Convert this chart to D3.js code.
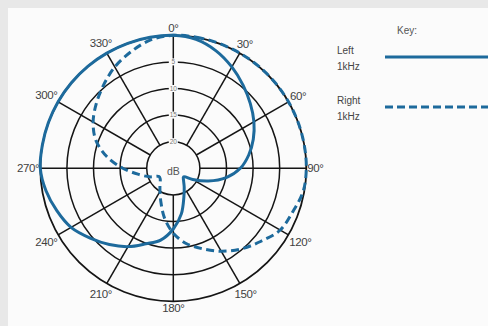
<!DOCTYPE html>
<html><head><meta charset="utf-8">
<script src="https://cdn.jsdelivr.net/npm/d3@7/dist/d3.min.js"></script>
<style>
html,body{margin:0;padding:0;background:#e8e8e8;overflow:hidden;}
svg{display:block;}
text{font-family:"Liberation Sans",Arial,sans-serif;}
</style></head>
<body>
<svg id="chart" width="488" height="326"></svg>
<script>
// Angles (degrees, clockwise from top)
const angles = [0,10,20,30,40,50,60,70,80,90,100,110,120,130,140,150,160,170,
                180,190,200,210,220,230,240,250,260,270,280,290,300,310,320,330,340,350];
// Attenuation (dB below maximum) per angle
const leftDb  = [0,0.4,1.5,3.0,4.6,6.1,7.5,9.0,10.6,12.4,14.9,18.0,20.8,22.5,22.0,20.9,19.2,16.3,
                 13.6,11.3,9.9,8.0,6.3,4.6,2.8,1.7,0.7,0,0,0,0,0,0,0,0,0];
const rightDb = [0,0,0,0,0,0,0,0,0,0,0.2,1.1,1.8,3.6,5.2,7.0,8.9,10.6,
                 12.8,15.5,18.2,20.0,21.1,21.8,21.9,20.3,18.4,15.5,12.3,9.5,7.6,6.1,4.6,3.0,1.7,0.5];
const ringTicks = [0,5,10,15,20];
const ringLabels = ["5","10","15","20"];
const spokeAngles = [0,30,60,90,120,150,180,210,240,270,300,330];
const spokeLabels = ["0°","30°","60°","90°","120°","150°","180°","210°","240°","270°","300°","330°"];
const seriesNames = [["Left","1kHz"],["Right","1kHz"]];

const svg = d3.select("#chart");
const W = 488, H = 326;
const cx = 173.3, cy = 168.3, R = 133;
const blue = "#1d6a9c";
const grid = "#151515";

// panel
svg.append("rect").attr("x",8).attr("y",8).attr("width",W-8).attr("height",H-8).attr("fill","#fbfbfb");

const r = d3.scaleLinear().domain([0,25]).range([R,0]);
const a = d3.scaleLinear().domain([0,360]).range([0,2*Math.PI]);
const g = svg.append("g").attr("transform",`translate(${cx},${cy})`);

// rings
g.selectAll("circle.ring").data(ringTicks).join("circle")
  .attr("class","ring").attr("r",d=>r(d)).attr("fill","none")
  .attr("stroke",grid).attr("stroke-width",d=>d===0?1.8:1.5);

// spokes
const pt = (ang, rad) => [rad*Math.sin(a(ang)), -rad*Math.cos(a(ang))];
g.selectAll("line.spoke").data(spokeAngles).join("line")
  .attr("class","spoke")
  .attr("x1",d=>pt(d,r(20))[0]).attr("y1",d=>pt(d,r(20))[1])
  .attr("x2",d=>pt(d,r(0))[0]).attr("y2",d=>pt(d,r(0))[1])
  .attr("stroke",grid).attr("stroke-width",1.5);

// ring labels on the 0° spoke
const rl = g.selectAll("g.rl").data(ringTicks.slice(1)).join("g").attr("class","rl")
  .attr("transform",d=>`translate(0,${-r(d)})`);
rl.append("rect").attr("x",-4.5).attr("y",-3.5).attr("width",9).attr("height",7).attr("fill","#fbfbfb");
rl.append("text").text((d,i)=>ringLabels[i]).attr("text-anchor","middle").attr("dy","0.35em")
  .attr("font-size",6.5).attr("fill","#777");

g.append("text").text("dB").attr("x",0).attr("y",3).attr("text-anchor","middle")
  .attr("dy","0.35em").attr("font-size",10.5).attr("fill","#555");

// angle labels
const lab = g.selectAll("text.ang").data(spokeAngles).join("text")
  .attr("class","ang").text((d,i)=>spokeLabels[i])
  .attr("font-size",11.5).attr("fill","#3f3f3f").attr("text-anchor","middle").attr("dy","0.35em")
  .style("letter-spacing","-0.4px");
lab.each(function(d){
  const w = this.getComputedTextLength();
  const s = Math.abs(Math.sin(a(d))), c = Math.abs(Math.cos(a(d)));
  const rr = 134 + (w/2)*s + 6*c;
  const p = pt(d, rr);
  d3.select(this).attr("x",p[0]).attr("y",p[1]);
});

// curves
const line = d3.lineRadial()
  .angle((d,i)=>a(angles[i]))
  .radius(d=>r(d))
  .curve(d3.curveCatmullRomClosed.alpha(0.5));
g.append("path").datum(leftDb).attr("d",line).attr("fill","none")
  .attr("stroke",blue).attr("stroke-width",3);
g.append("path").datum(rightDb).attr("d",line).attr("fill","none")
  .attr("stroke",blue).attr("stroke-width",3).attr("stroke-dasharray","8,4.5");

// legend
const leg = svg.append("g");
leg.append("text").text("Key:").attr("x",397).attr("y",30).attr("dy","0.35em")
  .attr("font-size",10).attr("fill","#555");
const rows = [{y:50, dash:null},{y:100, dash:"8,4"}];
rows.forEach((row,i)=>{
  leg.append("text").text(seriesNames[i][0]).attr("x",337).attr("y",row.y).attr("dy","0.35em")
    .attr("font-size",10).attr("fill","#444");
  leg.append("text").text(seriesNames[i][1]).attr("x",337).attr("y",row.y+16).attr("dy","0.35em")
    .attr("font-size",10).attr("fill","#444");
  const l = leg.append("line").attr("x1",385).attr("x2",490).attr("y1",row.y+7).attr("y2",row.y+7)
    .attr("stroke",blue).attr("stroke-width",3);
  if(row.dash) l.attr("stroke-dasharray",row.dash);
});
</script>
</body></html>
